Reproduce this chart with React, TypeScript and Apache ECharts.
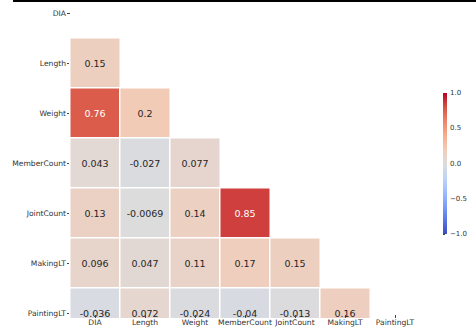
import React, { useEffect, useRef } from "react";
import * as echarts from "echarts";

const categories = ["DIA", "Length", "Weight", "MemberCount", "JointCount", "MakingLT", "PaintingLT"];
// lower-triangle correlation values, row by row (row i has i values, columns 0..i-1)
const rowLength = [0.15];
const rowWeight = [0.76, 0.2];
const rowMemberCount = [0.043, -0.027, 0.077];
const rowJointCount = [0.13, -0.0069, 0.14, 0.85];
const rowMakingLT = [0.096, 0.047, 0.11, 0.17, 0.15];
const rowPaintingLT = [-0.036, 0.072, -0.024, -0.04, -0.013, 0.16];
const lowerRows = [[], rowLength, rowWeight, rowMemberCount, rowJointCount, rowMakingLT, rowPaintingLT];
const colorbarTicks = [-1, -0.5, 0, 0.5, 1];

const coolwarm = [
  "#3b4cc0", "#5977e3", "#7b9ff9", "#9ebeff", "#c0d4f5", "#dddcdc",
  "#f2cbb7", "#f7ac8e", "#ee8468", "#d65244", "#b40426",
];

export default function App() {
  const ref = useRef<HTMLDivElement>(null);
  useEffect(() => {
    if (!ref.current) return;
    const chart = echarts.init(ref.current, undefined, { renderer: "svg" });
    const data: any[] = [];
    lowerRows.forEach((row, i) => {
      row.forEach((v, j) => {
        data.push({
          value: [j, i, v],
          label: { color: Math.abs(v) > 0.6 ? "#ffffff" : "#262626" },
        });
      });
    });
    const font = "DejaVu Sans";
    chart.setOption({
      animation: false,
      backgroundColor: "#ffffff",
      grid: [
        { left: 70, top: -12, width: 350, height: 350, outerBoundsMode: "none", containLabel: false },
        { left: 443, top: 93, width: 4, height: 141, outerBoundsMode: "none", containLabel: false },
      ],
      xAxis: [
        {
          type: "category",
          data: categories,
          gridIndex: 0,
          position: "bottom",
          offset: -23,
          z: 10,
          axisLine: { show: false },
          axisTick: { show: true, length: 3, alignWithLabel: true, lineStyle: { color: "#444" } },
          axisLabel: { fontSize: 7.6, color: "#333", margin: 3, fontFamily: font, interval: 0 },
          splitLine: { show: false },
        },
        { type: "value", gridIndex: 1, show: false, min: 0, max: 1 },
      ],
      yAxis: [
        {
          type: "category",
          data: categories,
          gridIndex: 0,
          inverse: true,
          axisLine: { show: false },
          axisTick: { show: true, length: 3, alignWithLabel: true, lineStyle: { color: "#444" } },
          axisLabel: { fontSize: 7.6, color: "#333", margin: 4, fontFamily: font, interval: 0 },
          splitLine: { show: false },
        },
        {
          type: "value",
          gridIndex: 1,
          position: "right",
          min: colorbarTicks[0],
          max: colorbarTicks[colorbarTicks.length - 1],
          interval: 0.5,
          axisLine: { show: false },
          axisTick: { show: true, length: 2, lineStyle: { color: "#444" } },
          axisLabel: {
            fontSize: 7,
            color: "#333",
            margin: 3,
            fontFamily: font,
            formatter: (v: number) => v.toFixed(1).replace("-", "\u2212"),
          },
          splitLine: { show: false },
        },
      ],
      visualMap: {
        show: false,
        type: "continuous",
        min: -1,
        max: 1,
        dimension: 2,
        seriesIndex: 0,
        inRange: { color: coolwarm },
      },
      graphic: [
        { type: "rect", z: 100, shape: { x: 13, y: 0, width: 463, height: 2 }, style: { fill: "#000" } },
        { type: "rect", z: 5, shape: { x: 60, y: 318, width: 370, height: 20 }, style: { fill: "#fff" } },
        {
          type: "rect",
          z: 5,
          shape: { x: 443, y: 93, width: 4, height: 141 },
          style: {
            fill: {
              type: "linear",
              x: 0, y: 0, x2: 0, y2: 1,
              colorStops: coolwarm
                .slice()
                .reverse()
                .map((c, k) => ({ offset: k / (coolwarm.length - 1), color: c })),
            },
          },
        },
      ],
      series: [
        {
          type: "heatmap",
          xAxisIndex: 0,
          yAxisIndex: 0,
          data,
          itemStyle: { borderColor: "#ffffff", borderWidth: 1.5 },
          label: {
            show: true,
            fontSize: 9.5,
            fontFamily: font,
            formatter: (p: any) => String(p.value[2]),
          },
          emphasis: { disabled: true },
        },
      ],
    });
    return () => chart.dispose();
  }, []);
  return <div ref={ref} style={{ position: "fixed", left: 0, top: 0, width: 476, height: 329 }} />;
}
